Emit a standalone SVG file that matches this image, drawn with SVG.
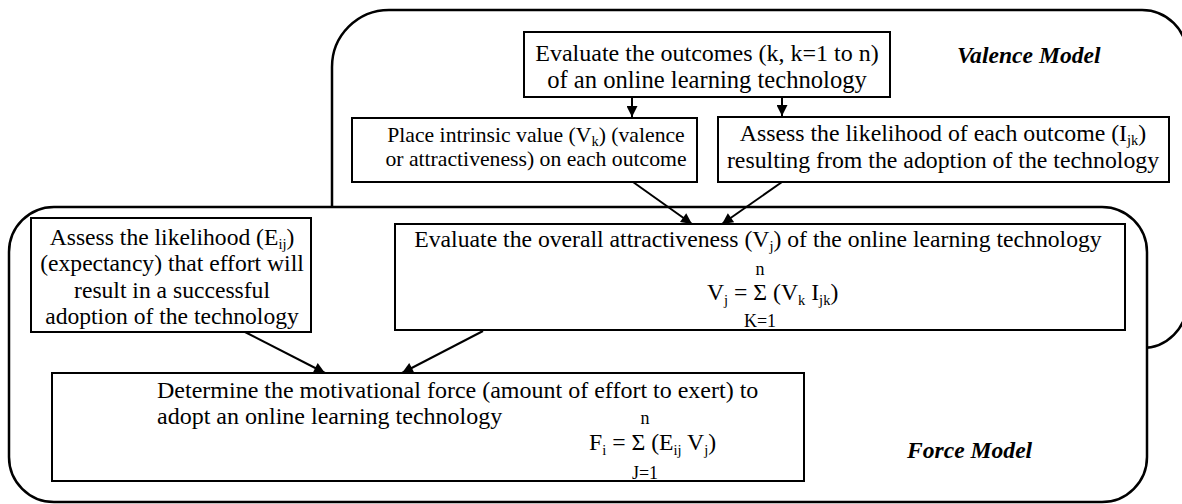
<svg xmlns="http://www.w3.org/2000/svg" width="1182" height="504" viewBox="0 0 1182 504">
  <style>
    .frame { fill: #ffffff; stroke: #000000; stroke-width: 2.5; }
    .box { fill: #ffffff; stroke: #000000; stroke-width: 2; }
    .t { font-family: "Liberation Serif", "Times New Roman", serif; fill: #000000; }
    .mid { text-anchor: middle; }
    .lbl { font-family: "Liberation Serif", "Times New Roman", serif; font-weight: bold; font-style: italic; font-size: 23.6px; fill: #000000; }
    .link { fill: none; stroke: #000000; stroke-width: 2; marker-end: url(#arrow); }
    .sm { font-size: 18px; }
    .sub { font-size: 14.5px; }
  </style>
  <defs>
    <marker id="arrow" viewBox="0 0 10 10" refX="10" refY="5" markerUnits="userSpaceOnUse" markerWidth="12" markerHeight="11" orient="auto">
      <path d="M0,0 L10,5 L0,10 z" fill="#000000"/>
    </marker>
  </defs>

  <!-- Valence model container -->
  <g id="valence-model">
    <path class="frame" d="M332 348 V67 A57 57 0 0 1 389 10 H1142 A45 45 0 0 1 1187 55 V303 A45 45 0 0 1 1142 348 Z"/>
    <text class="lbl" x="957" y="63">Valence Model</text>
  </g>

  <!-- Force model container -->
  <g id="force-model">
    <rect class="frame" x="9" y="207" width="1138" height="295" rx="45" ry="45"/>
    <text class="lbl" x="907" y="458">Force Model</text>
  </g>

  <!-- Evaluate outcomes -->
  <g id="evaluate-outcomes">
    <rect class="box" x="524" y="32" width="366" height="65"/>
    <text class="t mid" font-size="24" x="707" y="61">Evaluate the outcomes (k, k=1 to n)</text>
    <text class="t mid" font-size="24.6" x="707" y="88">of an online learning technology</text>
  </g>

  <!-- Intrinsic value -->
  <g id="intrinsic-value">
    <rect class="box" x="352" y="118" width="345" height="64"/>
    <text class="t mid" font-size="21.7" x="536" y="142">Place intrinsic value (V<tspan class="sub" dy="4">k</tspan><tspan dy="-4">) (valence</tspan></text>
    <text class="t mid" font-size="21.7" x="536" y="166">or attractiveness) on each outcome</text>
  </g>

  <!-- Outcome likelihood -->
  <g id="outcome-likelihood">
    <rect class="box" x="718" y="117" width="451" height="65"/>
    <text class="t mid" font-size="23.8" x="943" y="141">Assess the likelihood of each outcome (I<tspan class="sub" dy="4">jk</tspan><tspan dy="-4">)</tspan></text>
    <text class="t mid" font-size="23.8" x="943" y="168">resulting from the adoption of the technology</text>
  </g>

  <!-- Expectancy -->
  <g id="expectancy">
    <rect class="box" x="31" y="218" width="280" height="114"/>
    <text class="t mid" font-size="23.6" x="172" y="245">Assess the likelihood (E<tspan class="sub" dy="4">ij</tspan><tspan dy="-4">)</tspan></text>
    <text class="t mid" font-size="23.6" x="172" y="271">(expectancy) that effort will</text>
    <text class="t mid" font-size="23.6" x="172" y="298">result in a successful</text>
    <text class="t mid" font-size="23.6" x="172" y="324">adoption of the technology</text>
  </g>

  <!-- Overall attractiveness -->
  <g id="overall-attractiveness">
    <rect class="box" x="395" y="224" width="730" height="106"/>
    <text class="t mid" font-size="23.7" x="758" y="247">Evaluate the overall attractiveness (V<tspan class="sub" dy="4">j</tspan><tspan dy="-4">) of the online learning technology</tspan></text>
    <text class="t mid sm" x="760" y="275">n</text>
    <text class="t" font-size="23.7" x="707" y="300">V<tspan class="sub" dy="5">j</tspan><tspan dy="-5"> = Σ (V</tspan><tspan class="sub" dy="5">k</tspan><tspan dy="-5"> I</tspan><tspan class="sub" dy="5">jk</tspan><tspan dy="-5">)</tspan></text>
    <text class="t mid sm" x="760" y="327">K=1</text>
  </g>

  <!-- Motivational force -->
  <g id="motivational-force">
    <rect class="box" x="52" y="373" width="752" height="108"/>
    <text class="t" font-size="24" x="157" y="398">Determine the motivational force (amount of effort to exert) to</text>
    <text class="t" font-size="24" x="157" y="424">adopt an online learning technology</text>
    <text class="t mid sm" x="645" y="424">n</text>
    <text class="t" font-size="23.7" x="589" y="450">F<tspan class="sub" dy="5">i</tspan><tspan dy="-5"> = Σ (E</tspan><tspan class="sub" dy="5">ij</tspan><tspan dy="-5"> V</tspan><tspan class="sub" dy="5">j</tspan><tspan dy="-5">)</tspan></text>
    <text class="t mid sm" x="645" y="479">J=1</text>
  </g>

  <!-- Connectors -->
  <g id="connectors">
    <line class="link" x1="632" y1="97" x2="632" y2="117"/>
    <line class="link" x1="782" y1="97" x2="782" y2="116"/>
    <line class="link" x1="633" y1="182" x2="692" y2="224"/>
    <line class="link" x1="782" y1="182" x2="722" y2="224"/>
    <line class="link" x1="245" y1="332" x2="325" y2="373"/>
    <line class="link" x1="483" y1="331" x2="402" y2="373"/>
  </g>
</svg>
